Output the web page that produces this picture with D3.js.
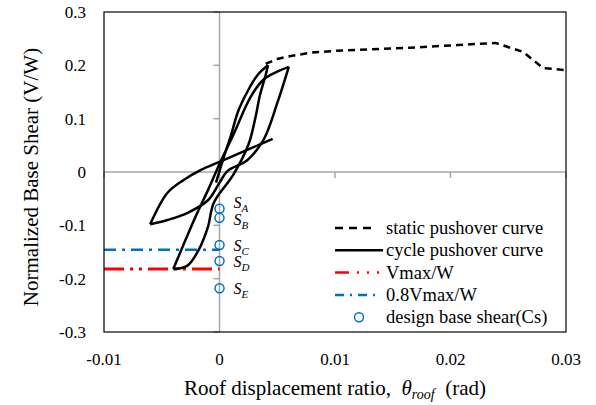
<!DOCTYPE html>
<html>
<head>
<meta charset="utf-8">
<script src="https://cdn.jsdelivr.net/npm/d3@7"></script>
<style>
body { margin: 0; background: #fff; }
text { font-family: "Liberation Serif", "Times New Roman", serif; fill: #000; }
</style>
</head>
<body>
<div class="chart"></div>
<script>
// plot area geometry (px)
var margin = { top: 12, right: 30, bottom: 73, left: 104 };
var width = 596 - margin.left - margin.right;
var height = 405 - margin.top - margin.bottom;

// ticks
var xTicks = [-0.01, 0, 0.01, 0.02, 0.03];
var yTicks = [-0.3, -0.2, -0.1, 0, 0.1, 0.2, 0.3];

// static pushover curve [drift, V/W]
var staticCurve = [[0.0040, 0.203], [0.0050, 0.212], [0.0063, 0.218], [0.0080, 0.224],
    [0.0099, 0.227], [0.0130, 0.230], [0.0165, 0.233], [0.0206, 0.238], [0.0239, 0.242],
    [0.0263, 0.225], [0.0280, 0.195], [0.0300, 0.191]];

// cyclic pushover branches
var loadA = [[-0.0003, -0.02], [0.0004, 0.03], [0.0010, 0.069], [0.0016, 0.113], [0.0024, 0.150],
    [0.0033, 0.182], [0.0042, 0.200]];
var unloadA = [[0.0042, 0.200], [0.0040, 0.182], [0.0035, 0.144], [0.0031, 0.101], [0.0025, 0.051],
    [0.0012, -0.005], [-0.0005, -0.058], [-0.0010, -0.103], [-0.0018, -0.146], [-0.0028, -0.176],
    [-0.0040, -0.182]];
var reloadB = [[-0.0040, -0.182], [-0.0022, -0.090], [-0.0010, -0.034], [0.0000, 0.015],
    [0.0012, 0.070], [0.0027, 0.141], [0.0038, 0.173], [0.0050, 0.188], [0.0060, 0.197]];
var unloadB = [[0.0060, 0.197], [0.0050, 0.129], [0.0038, 0.060], [0.0024, 0.022], [0.0007, 0.002],
    [0.0000, -0.020], [-0.0010, -0.053], [-0.0028, -0.077], [-0.0045, -0.090], [-0.0060, -0.098]];
var reloadC = [[-0.0060, -0.098], [-0.0045, -0.039], [-0.0031, -0.015], [-0.0016, 0.004],
    [0.0000, 0.019], [0.0015, 0.033], [0.0030, 0.047], [0.0046, 0.062]];
var cycleBranches = [loadA, unloadA, reloadB, unloadB, reloadC];

// strength levels and design base shear
var vmaxW = -0.182;
var vmax08W = -0.146;
var csNames = ["A", "B", "C", "D", "E"];
var csValues = [-0.069, -0.086, -0.137, -0.167, -0.218];

var legendLabels = ["static pushover curve", "cycle pushover curve", "Vmax/W", "0.8Vmax/W",
    "design base shear(Cs)"];

var blue = "#0070C0", red = "#FF0000", axisGray = "#a6a6a6";

var xScale = d3.scaleLinear().domain([-0.01, 0.03]).range([0, width]);
var yScale = d3.scaleLinear().domain([-0.3, 0.3]).range([height, 0]);
var fmt = function(d) { return String(d); };   // plain hyphen minus like Excel

var svg = d3.select("div.chart").append("svg")
    .attr("width", 596)
    .attr("height", 405);

var g = svg.append("g")
    .attr("transform", "translate(" + margin.left + "," + margin.top + ")");

// zero axes
g.append("line")
    .attr("x1", xScale(0)).attr("x2", xScale(0))
    .attr("y1", 0).attr("y2", height)
    .attr("stroke", axisGray).attr("stroke-width", 1.5);
g.append("line")
    .attr("x1", 0).attr("x2", width)
    .attr("y1", yScale(0)).attr("y2", yScale(0))
    .attr("stroke", axisGray).attr("stroke-width", 1.5);

// tick marks on zero axes
g.selectAll(".ytick").data(yTicks.filter(function(d) { return d !== 0; }))
    .enter().append("line")
    .attr("x1", xScale(0) - 6).attr("x2", xScale(0))
    .attr("y1", function(d) { return yScale(d); })
    .attr("y2", function(d) { return yScale(d); })
    .attr("stroke", axisGray).attr("stroke-width", 1.5);
g.selectAll(".xtick").data(xTicks)
    .enter().append("line")
    .attr("x1", function(d) { return xScale(d); })
    .attr("x2", function(d) { return xScale(d); })
    .attr("y1", yScale(0)).attr("y2", yScale(0) + 6)
    .attr("stroke", axisGray).attr("stroke-width", 1.5);

// tick labels
g.selectAll(".ylab").data(yTicks)
    .enter().append("text")
    .attr("x", -18)
    .attr("y", function(d) { return yScale(d); })
    .attr("dy", "0.35em")
    .style("text-anchor", "end")
    .style("font-size", "17px")
    .text(fmt);
g.selectAll(".xlab").data(xTicks)
    .enter().append("text")
    .attr("x", function(d) { return xScale(d); })
    .attr("y", height + 33)
    .style("text-anchor", "middle")
    .style("font-size", "17px")
    .text(fmt);

// strength lines
g.append("line")
    .attr("x1", 0).attr("x2", xScale(0))
    .attr("y1", yScale(vmax08W)).attr("y2", yScale(vmax08W))
    .attr("stroke", blue).attr("stroke-width", 2.5)
    .attr("stroke-dasharray", "12,6,3,6");
g.append("line")
    .attr("x1", 0).attr("x2", xScale(0))
    .attr("y1", yScale(vmaxW)).attr("y2", yScale(vmaxW))
    .attr("stroke", red).attr("stroke-width", 3)
    .attr("stroke-dasharray", "20,6,3,6,3,6");

var line = d3.line()
    .x(function(d) { return xScale(d[0]); })
    .y(function(d) { return yScale(d[1]); });

// static curve
g.append("path")
    .datum(staticCurve)
    .attr("d", line)
    .attr("fill", "none")
    .attr("stroke", "#000").attr("stroke-width", 2.5)
    .attr("stroke-dasharray", "7,5");

// cyclic curve
var smooth = d3.line()
    .x(function(d) { return xScale(d[0]); })
    .y(function(d) { return yScale(d[1]); })
    .curve(d3.curveCatmullRom);
g.selectAll(".cycle").data(cycleBranches)
    .enter().append("path")
    .attr("d", smooth)
    .attr("fill", "none")
    .attr("stroke", "#000").attr("stroke-width", 2.5)
    .attr("stroke-linejoin", "round");

// design base shear
g.selectAll(".cs").data(csValues)
    .enter().append("circle")
    .attr("cx", xScale(0))
    .attr("cy", function(d) { return yScale(d); })
    .attr("r", 4.5)
    .attr("fill", "none")
    .attr("stroke", blue).attr("stroke-width", 1.5);

var labelShift = [-1, 7, 6, 6, 6];
var csText = g.selectAll(".cslab").data(csValues)
    .enter().append("text")
    .attr("x", xScale(0) + 14)
    .attr("y", function(d, i) { return yScale(d) + labelShift[i]; })
    .style("font-size", "16px")
    .style("font-style", "italic");
csText.append("tspan").text("S");
csText.append("tspan")
    .attr("dy", 4)
    .style("font-size", "11px")
    .text(function(d, i) { return csNames[i]; });

// plot border
g.append("rect")
    .attr("width", width).attr("height", height)
    .attr("fill", "none")
    .attr("stroke", "#000").attr("stroke-width", 1.2);

// legend
var legend = g.append("g").attr("transform", "translate(231,216)");
var rowH = 22.3;
legend.selectAll("text").data(legendLabels)
    .enter().append("text")
    .attr("x", 51)
    .attr("y", function(d, i) { return i * rowH; })
    .attr("dy", "0.33em")
    .style("font-size", "18.5px")
    .text(function(d) { return d; });
legend.append("line")
    .attr("x1", 0).attr("x2", 40).attr("y1", 0).attr("y2", 0)
    .attr("stroke", "#000").attr("stroke-width", 2.5).attr("stroke-dasharray", "8,6");
legend.append("line")
    .attr("x1", 0).attr("x2", 48).attr("y1", rowH).attr("y2", rowH)
    .attr("stroke", "#000").attr("stroke-width", 2.5);
legend.append("line")
    .attr("x1", 0).attr("x2", 44).attr("y1", 2 * rowH).attr("y2", 2 * rowH)
    .attr("stroke", red).attr("stroke-width", 2.5).attr("stroke-dasharray", "14,8,2,8,2,8");
legend.append("line")
    .attr("x1", 0).attr("x2", 44).attr("y1", 3 * rowH).attr("y2", 3 * rowH)
    .attr("stroke", blue).attr("stroke-width", 2.5).attr("stroke-dasharray", "9,6,2,6");
legend.append("circle")
    .attr("cx", 24).attr("cy", 4 * rowH).attr("r", 4.5)
    .attr("fill", "none").attr("stroke", blue).attr("stroke-width", 1.5);

// axis titles
svg.append("text")
    .attr("transform", "translate(38," + (margin.top + height / 2 + 5) + ") rotate(-90)")
    .style("text-anchor", "middle")
    .style("font-size", "21px")
    .text("Normalized Base Shear (V/W)");

var xTitle = svg.append("text")
    .attr("x", 335)
    .attr("y", 395)
    .style("text-anchor", "middle")
    .style("font-size", "21px");
xTitle.append("tspan").text("Roof displacement ratio,\u00a0\u00a0");
xTitle.append("tspan").style("font-style", "italic").text("\u03b8");
xTitle.append("tspan").style("font-style", "italic").style("font-size", "14px")
    .attr("dy", 4).text("roof");
xTitle.append("tspan").attr("dy", -4).text("\u00a0\u00a0(rad)");
</script>
</body>
</html>
